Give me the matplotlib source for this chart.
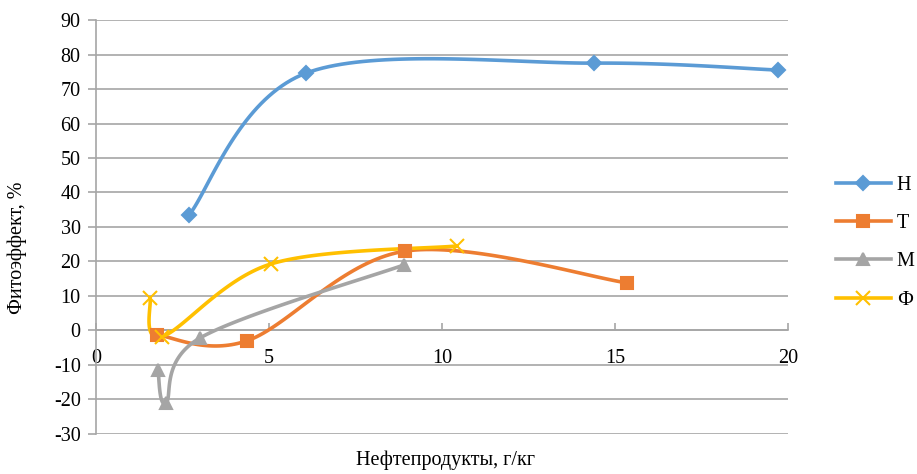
import numpy as np
import matplotlib
matplotlib.use("Agg")
import matplotlib.pyplot as plt

plt.rcParams['font.family'] = ['Liberation Serif', 'DejaVu Serif']
plt.rcParams['axes.unicode_minus'] = False

# данные
h_x = [2.69, 6.07, 14.4, 19.7]
h_y = [33.5, 74.6, 77.5, 75.5]
t_x = [1.76, 4.36, 8.93, 15.35]
t_y = [-1.3, -3.0, 23.0, 13.8]
m_x = [1.79, 2.02, 3.0, 8.9]
m_y = [-11.5, -21.0, -2.2, 19.0]
f_x = [1.56, 1.9, 5.06, 10.43]
f_y = [9.4, -1.8, 19.3, 24.5]

names = ['Н', 'Т', 'М', 'Ф']
colors = ['#5B9BD5', '#ED7D31', '#A5A5A5', '#FFC000']
markers = ['D', 's', '^', 'x']
msizes = [7, 9, 8, 10]

# сглаживание как в Excel (Безье, натяжение 1/6), в пикселях
SX, SY = 34.6, 3.45


def smooth(xs, ys, n=40):
    p = np.column_stack([np.array(xs) * SX, np.array(ys) * SY])
    k = len(p)
    out = [p[0]]
    for i in range(k - 1):
        p0 = p[i - 1] if i > 0 else p[i]
        p1, p2 = p[i], p[i + 1]
        p3 = p[i + 2] if i + 2 < k else p[i + 1]
        c1 = p1 + (p2 - p0) / 6
        c2 = p2 - (p3 - p1) / 6
        t = np.linspace(0, 1, n)[1:, None]
        seg = ((1 - t) ** 3) * p1 + 3 * ((1 - t) ** 2) * t * c1 + 3 * (1 - t) * t ** 2 * c2 + t ** 3 * p2
        out.extend(seg)
    out = np.array(out)
    return out[:, 0] / SX, out[:, 1] / SY


fig = plt.figure(figsize=(9.17, 4.74), dpi=100)
ax = fig.add_axes([0.1047, 0.0844, 0.7546, 0.8734])

series = [(h_x, h_y), (t_x, t_y), (m_x, m_y), (f_x, f_y)]
for (xs, ys), nm, c, mk, ms in zip(series, names, colors, markers, msizes):
    sx, sy = smooth(xs, ys)
    ax.plot(sx, sy, color=c, lw=2.6, solid_capstyle='round', zorder=3)
    ax.plot(xs, ys, linestyle='none', marker=mk, ms=ms, color=c,
            mec=c, mew=1.5, zorder=4)
    ax.plot([], [], color=c, lw=2.6, marker=mk, ms=ms, mew=1.5, label=nm)

ax.set_xlim(0, 20)
ax.set_ylim(-30, 90)
ax.set_yticks(range(-30, 91, 10))
ax.set_xticks(range(0, 21, 5))
ax.grid(axis='y', color='#A6A6A6', lw=1.2)
ax.set_axisbelow(True)

for s in ['top', 'right']:
    ax.spines[s].set_visible(False)
ax.spines['bottom'].set_position(('data', 0))
ax.spines['bottom'].set_color('#A6A6A6')
ax.spines['left'].set_color('#A6A6A6')
ax.spines['bottom'].set_linewidth(1.2)
ax.spines['left'].set_linewidth(1.2)
ax.tick_params(axis='y', colors='#A6A6A6', labelcolor='black', length=6,
               labelsize=14.5, width=1.2, pad=5)
ax.tick_params(axis='x', colors='#A6A6A6', labelcolor='black', length=5,
               labelsize=14.5, width=1.2, direction='in', pad=13)

ax.set_ylabel('Фитоэффект, %', fontsize=14.5)
ax.yaxis.set_label_coords(-0.100, 0.45)
fig.text(0.486, 0.008, 'Нефтепродукты, г/кг', ha='center', va='bottom', fontsize=14.5)

ax.legend(loc='center left', bbox_to_anchor=(0.912, 0.488),
          bbox_transform=fig.transFigure, frameon=False, fontsize=14.5,
          handlelength=2.7, labelspacing=0.95, handletextpad=0.3, borderpad=0,
          borderaxespad=0)

fig.savefig('out.png', dpi=100)
